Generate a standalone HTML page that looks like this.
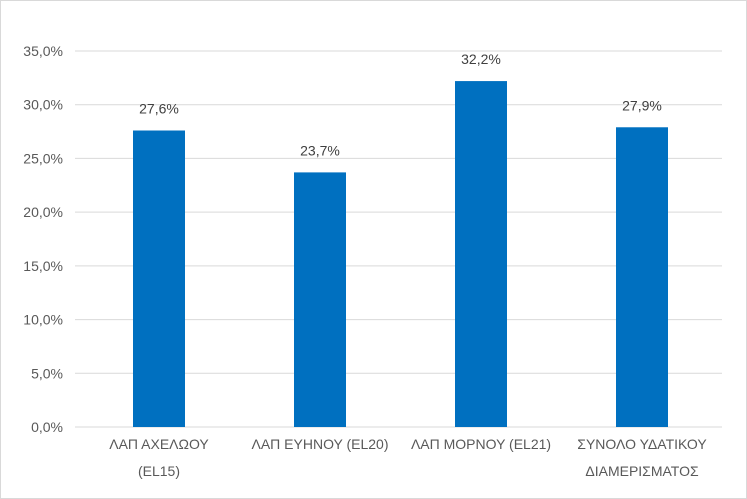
<!DOCTYPE html>
<html><head><meta charset="utf-8"><style>
body{margin:0;background:#fff;}
svg{display:block;font-family:"Liberation Sans",sans-serif;}
</style></head><body>
<svg id="chart" width="747" height="499" viewBox="0 0 747 499">
<rect x="0.5" y="0.5" width="746" height="498" fill="#fff" stroke="#d9d9d9"/>
<g id="grid"></g><g id="bars"></g><g id="labels"></g>
</svg>
<script>
const categories=[["ΛΑΠ ΑΧΕΛΩΟΥ","(EL15)"],["ΛΑΠ ΕΥΗΝΟΥ (EL20)"],["ΛΑΠ ΜΟΡΝΟΥ (EL21)"],["ΣΥΝΟΛΟ ΥΔΑΤΙΚΟΥ","ΔΙΑΜΕΡΙΣΜΑΤΟΣ"]];
const values=[27.6,23.7,32.2,27.9];
const valueLabels=["27,6%","23,7%","32,2%","27,9%"];
const ticks=[0,5,10,15,20,25,30,35];
const tickLabels=["0,0%","5,0%","10,0%","15,0%","20,0%","25,0%","30,0%","35,0%"];
const NS="http://www.w3.org/2000/svg";
const x0=78.5,x1=722.5,y0=427,yTop=51,vMax=35;
const y=v=>y0-(y0-yTop)*v/vMax;
const band=(x1-x0)/categories.length;
const cx=i=>x0+band*(i+0.5);
function mk(t,a,p){const e=document.createElementNS(NS,t);for(const k in a)e.setAttribute(k,a[k]);p.appendChild(e);return e;}
const g=document.getElementById('grid'),b=document.getElementById('bars'),l=document.getElementById('labels');
ticks.forEach((t,i)=>{
 const ln=mk('line',{x1:75,x2:722,y1:y(t),y2:y(t),stroke:'#d9d9d9','stroke-width':1},g);
 
 
 const tx=mk('text',{x:63,y:y(t)+5,'text-anchor':'end','font-size':14,fill:'#595959'},g);
 tx.textContent=tickLabels[i];
 
 
});
const bw=52;
values.forEach((v,i)=>{
 const r=mk('rect',{x:cx(i)-bw/2,y:y(v),width:bw,height:y0-y(v),fill:'#0070c0'},b);
 
 
 const t=mk('text',{x:cx(i),y:y(v)-17,'text-anchor':'middle','font-size':14,fill:'#404040'},l);
 t.textContent=valueLabels[i];
 
 
 categories[i].forEach((line,j)=>{
  const c=mk('text',{x:cx(i),y:449+j*27,'text-anchor':'middle','font-size':14,fill:'#595959'},l);
  c.textContent=line;
  
  
 });
});
</script>
</body></html>
